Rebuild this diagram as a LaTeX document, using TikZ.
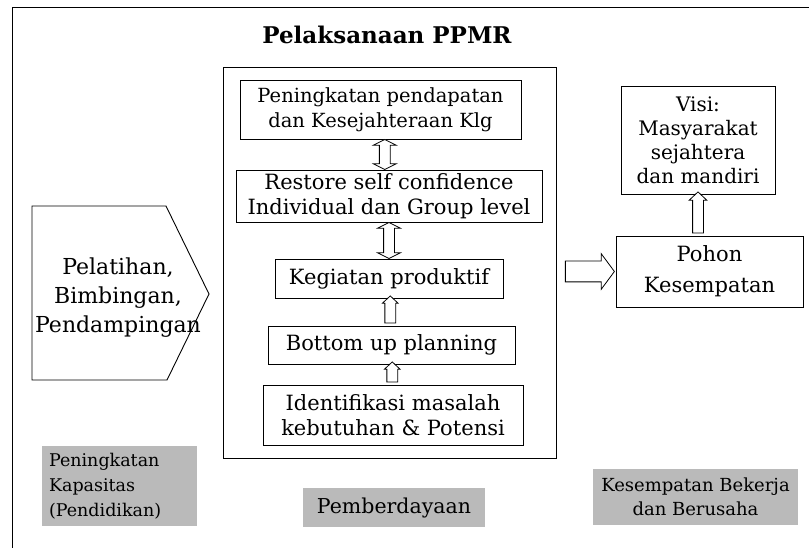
\documentclass[tikz,border=0pt]{standalone}
\usepackage{fontspec}
\setmainfont{DejaVu Serif}
\usetikzlibrary{shapes.arrows, calc}

\tikzset{
  kotak/.style={draw, line width=0.9pt, align=center, inner sep=0pt,
    font=\fontsize{21}{25}\selectfont},
  abu/.style={fill=black!27, inner sep=0pt, align=center},
  panah dua/.style={double arrow, draw, line width=0.8pt, fill=white,
    shape border rotate=90, inner xsep=5pt, inner ysep=0pt, minimum width=22pt,
    double arrow head extend=6pt, double arrow tip angle=126},
  panah satu/.style={single arrow, draw, line width=0.8pt, fill=white,
    shape border rotate=90, inner xsep=5pt, inner ysep=0pt, minimum width=15pt,
    single arrow head extend=2.5pt, single arrow tip angle=94}
}

\begin{document}
\begin{tikzpicture}[x=1pt, y=-1pt]
  \useasboundingbox (0,0) rectangle (809,548);
  % 1. Bingkai dan judul
  \draw[line width=1pt] (12,548) -- (12,8) -- (809,8);
  \node[font=\fontsize{23}{26}\selectfont\bfseries] (judul) at (387,35) {Pelaksanaan PPMR};
  % 2. Pemberdayaan (kotak tengah)
  \node[draw, line width=1pt, minimum width=333, minimum height=390] (ppmr) at (389.5,263) {};
  \node[kotak, minimum width=281, minimum height=59, font=\fontsize{19.5}{25}\selectfont]
    (pendapatan) at (380.5,109.5) {Peningkatan pendapatan\\dan Kesejahteraan Klg};
  \node[kotak, minimum width=306, minimum height=52] (percaya) at (389,196)
    {Restore self confidence\\Individual dan Group level};
  \node[kotak, minimum width=228, minimum height=39] (kegiatan) at (389,278.5)
    {Kegiatan produktif};
  \node[kotak, minimum width=247, minimum height=38] (bottomup) at (391.5,345)
    {Bottom up planning};
  \node[kotak, minimum width=260, minimum height=60] (identifikasi) at (393,415)
    {Identifikasi masalah\\kebutuhan \& Potensi};
  \path let \p1=(pendapatan.south), \p2=(percaya.north) in
    node[panah dua, minimum height={\y1-\y2}] at ($(\p1)!0.5!(\p2)$) {};
  \path let \p1=(percaya.south), \p2=(kegiatan.north) in
    node[panah dua, minimum height={\y1-\y2}] at ($(\p1)!0.5!(\p2)$) {};
  \path let \p1=(bottomup.north), \p2=(kegiatan.south) in
    node[panah satu, minimum height={\y2-\y1}] at ($(\p1)!0.5!(\p2)$) {};
  \path let \p1=(identifikasi.north), \p2=(bottomup.south) in
    node[panah satu, minimum height={\y2-\y1}] at ($(\p1)!0.5!(\p2)$) {};
  % 3. Peningkatan kapasitas
  \draw[line width=0.9pt] (32,206) -- (166,206) -- (209,294) -- (167,380) -- (32,380) -- cycle;
  \node[align=center, inner sep=0pt, font=\fontsize{22}{29}\selectfont] (pelatihan) at (118,298)
    {Pelatihan,\\Bimbingan,\\Pendampingan};
  % 4. Kesempatan
  \node[kotak, minimum width=154, minimum height=108, font=\fontsize{20}{24}\selectfont]
    (visi) at (698,140) {Visi:\\Masyarakat\\sejahtera\\dan mandiri};
  \node[kotak, minimum width=187, minimum height=71] (pohon) at (709.5,271.5)
    {Pohon\\[6pt]Kesempatan};
  \path let \p1=(ppmr.east |- pohon.west), \p2=(pohon.west) in
    node[panah satu, shape border rotate=0, minimum height={\x2-\x1-10pt},
      inner xsep=0pt, inner ysep=10pt, minimum width=35pt,
      single arrow head extend=7.5pt, single arrow tip angle=107] at ($(\p1)!0.5!(\p2)$) {};
  \path let \p1=(visi.south |- pohon.north), \p2=(visi.south) in
    node[panah satu, minimum height={\y2-\y1}, minimum width=17pt,
      single arrow head extend=3.5pt, single arrow tip angle=93] at ($(\p1)!0.5!(\p2)$) {};
  % 5. Label abu-abu
  \node[abu, minimum width=155, minimum height=80, text width=141, align=left,
    font=\fontsize{17.5}{25}\selectfont] (kapasitas) at (119.5,486)
    {Peningkatan\\Kapasitas\\(Pendidikan)};
  \node[abu, minimum width=182, minimum height=39, font=\fontsize{20.5}{24}\selectfont]
    (pemberdayaan) at (394,507.5) {Pemberdayaan};
  \node[abu, minimum width=205, minimum height=56, font=\fontsize{18}{24}\selectfont]
    (bekerja) at (695.5,497) {Kesempatan Bekerja\\dan Berusaha};
\end{tikzpicture}
\end{document}
